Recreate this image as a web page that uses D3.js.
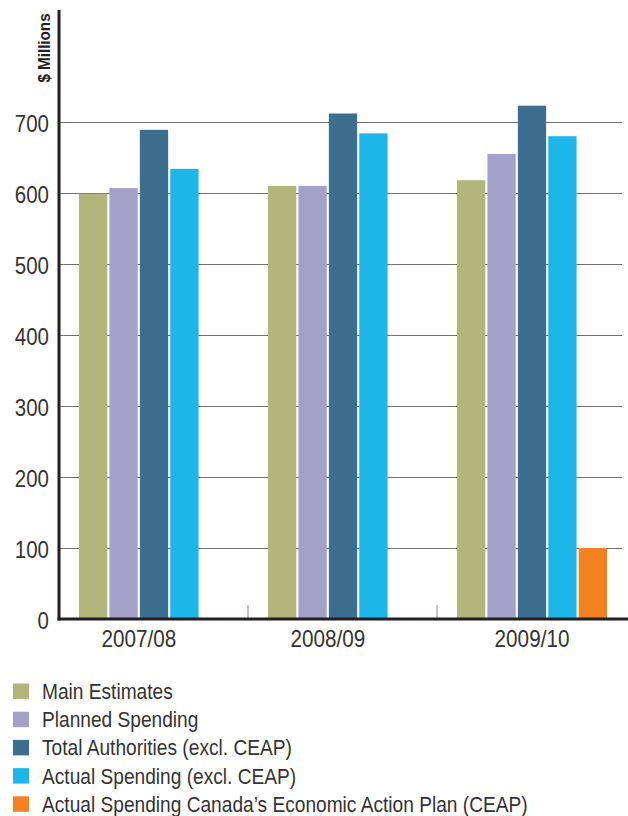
<!DOCTYPE html>
<html>
<head>
<meta charset="utf-8">
<script src="https://cdn.jsdelivr.net/npm/d3@7"></script>
<style>
  body { margin: 0; background: #fff; }
  svg text { font-family: "Liberation Sans", Arial, sans-serif; }
</style>
</head>
<body>
<div id="chart"></div>
<script>
// data
var years = ["2007/08", "2008/09", "2009/10"];
var seriesNames = [
  "Main Estimates",
  "Planned Spending",
  "Total Authorities (excl. CEAP)",
  "Actual Spending (excl. CEAP)",
  "Actual Spending Canada\u2019s Economic Action Plan (CEAP)"
];
var seriesColors = ["#b1b77b", "#a3a1c8", "#3c6e8f", "#1db6e9", "#f58220"];
var mainEstimates = [599, 610, 618];
var plannedSpending = [607, 610, 655];
var totalAuthorities = [689, 712, 723];
var actualSpending = [634, 684, 680];
var ceapSpending = [null, null, 100];
var yTicks = [0, 100, 200, 300, 400, 500, 600, 700];

var values = [mainEstimates, plannedSpending, totalAuthorities, actualSpending, ceapSpending];

var width = 628, height = 816;
var margin = {top: 10, right: 2, left: 59, bottom: 197};
var plotBottom = height - margin.bottom; // baseline ~619

var svg = d3.select("#chart").append("svg")
  .attr("width", width)
  .attr("height", height);

// text in the reference is a narrow face, so squeeze it a little
function squeeze(sx) {
  return function (sel) {
    sel.attr("transform", function () {
      var x = +this.getAttribute("data-x"), y = +this.getAttribute("data-y");
      return "translate(" + x + "," + y + ") scale(" + sx + ",1)";
    });
  };
}

var x0 = d3.scaleBand()
  .domain(years)
  .range([margin.left, margin.left + 189 * 3]);

var x1 = d3.scaleBand()
  .domain(d3.range(seriesNames.length))
  .range([20, 170])
  .paddingInner(0.07);

var y = d3.scaleLinear()
  .domain([0, 700])
  .range([plotBottom, plotBottom - 497]);

// grid lines
svg.append("g")
  .selectAll("line")
  .data(yTicks.slice(1))
  .enter().append("line")
  .attr("x1", margin.left)
  .attr("x2", width - 6)
  .attr("y1", function (d) { return y(d) + 0.5; })
  .attr("y2", function (d) { return y(d) + 0.5; })
  .attr("stroke", "#707070")
  .attr("stroke-width", 1.2);

// y tick labels
svg.append("g")
  .selectAll("text")
  .data(yTicks)
  .enter().append("text")
  .attr("data-x", 49)
  .attr("data-y", function (d) { return y(d) + 9.5; })
  .attr("text-anchor", "end")
  .attr("fill", "#333")
  .attr("font-size", "23px")
  .text(function (d) { return d; })
  .call(squeeze(0.89));

// bars
var groups = svg.append("g")
  .selectAll("g")
  .data(years)
  .enter().append("g")
  .attr("transform", function (d) { return "translate(" + x0(d) + ",0)"; });

groups.selectAll("rect")
  .data(function (d, i) {
    return values.map(function (s, k) { return {k: k, v: s[i]}; })
      .filter(function (e) { return e.v != null; });
  })
  .enter().append("rect")
  .attr("x", function (d) { return x1(d.k); })
  .attr("width", x1.bandwidth())
  .attr("y", function (d) { return y(d.v); })
  .attr("height", function (d) { return y(0) - y(d.v); })
  .attr("fill", function (d) { return seriesColors[d.k]; });

// group separators
svg.append("g")
  .selectAll("line")
  .data(years.slice(1))
  .enter().append("line")
  .attr("x1", function (d) { return x0(d); })
  .attr("x2", function (d) { return x0(d); })
  .attr("y1", plotBottom - 14)
  .attr("y2", plotBottom)
  .attr("stroke", "#888")
  .attr("stroke-width", 1);

// x labels, centred on the bars present in each group
svg.append("g")
  .selectAll("text")
  .data(years)
  .enter().append("text")
  .attr("data-x", function (d, i) {
    var n = values.filter(function (s) { return s[i] != null; }).length;
    return x0(d) + (x1(0) + x1(n - 1) + x1.bandwidth()) / 2;
  })
  .attr("data-y", plotBottom + 28)
  .attr("text-anchor", "middle")
  .attr("fill", "#333")
  .attr("font-size", "23px")
  .text(function (d) { return d; })
  .call(squeeze(0.9));

// axes lines
svg.append("line")
  .attr("x1", margin.left).attr("x2", margin.left)
  .attr("y1", margin.top).attr("y2", plotBottom + 1.5)
  .attr("stroke", "#231f20").attr("stroke-width", 3);
svg.append("line")
  .attr("x1", margin.left - 1.5).attr("x2", width)
  .attr("y1", plotBottom).attr("y2", plotBottom)
  .attr("stroke", "#231f20").attr("stroke-width", 3);

// axis title
svg.append("text")
  .attr("transform", "translate(50,48) rotate(-90) scale(0.95,1)")
  .attr("text-anchor", "middle")
  .attr("font-size", "16px")
  .attr("font-weight", "bold")
  .attr("fill", "#231f20")
  .text("$ Millions");

// legend
var legend = svg.append("g")
  .selectAll("g")
  .data(seriesNames)
  .enter().append("g")
  .attr("transform", function (d, i) { return "translate(13," + (683.5 + i * 28.2) + ")"; });

legend.append("rect")
  .attr("width", 16)
  .attr("height", 15.5)
  .attr("fill", function (d, i) { return seriesColors[i]; });

legend.append("text")
  .attr("data-x", 29)
  .attr("data-y", 15.5)
  .attr("font-size", "22px")
  .attr("fill", "#333")
  .text(function (d) { return d; })
  .call(squeeze(0.87));
</script>
</body>
</html>
